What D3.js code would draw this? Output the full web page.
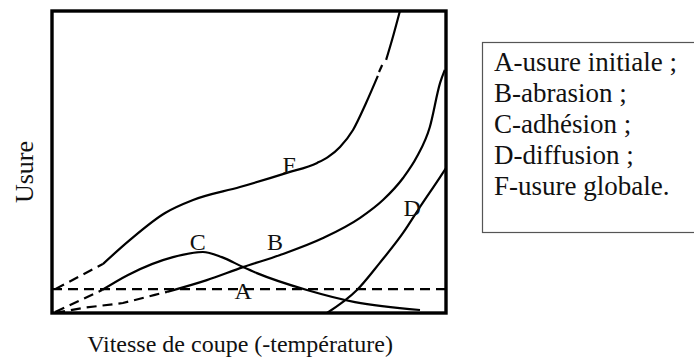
<!DOCTYPE html>
<html><head><meta charset="utf-8">
<script src="https://cdn.jsdelivr.net/npm/d3@7/dist/d3.min.js"></script>
<style>body{margin:0;background:#fff}svg{display:block}text{font-family:"Liberation Serif","Times New Roman",serif;fill:#111}</style>
</head><body><svg id="c" width="694" height="363"></svg>
<script>
// Data (relative units 0-100 on both axes)
const curveA = [[0,7.9],[100,7.9]];
const curveB_dashed = [[0.8,0],[7.9,1.7],[18.0,3.3],[26.1,6.0],[29.2,7.0]];
const curveB = [[29.2,7.0],[39.3,10.9],[48.5,15.2],[57.9,19.2],[68.8,24.8],[78.2,31.5],[84.0,37.4],[89.1,44.7],[92.6,51.7],[95.9,61.6],[98.5,76.2],[99.7,80.5]];
const curveC_dashed = [[0.8,0.3],[12.7,7.6]];
const curveC = [[12.7,7.6],[19.3,12.6],[30.7,18.5],[38.3,20.2],[43.1,18.5],[48.5,15.2],[52.0,13.2],[64.7,7.6],[76.9,3.6],[93.4,1.0]];
const curveD = [[69.8,0],[77.4,7.6],[83.2,16.6],[89.1,26.5],[93.4,35.1],[98.5,45.0],[100,48.0]];
const curveF_dashed = [[0.8,7.9],[12.9,16.2]];
const curveF = [[12.9,16.2],[19.8,24.2],[28.7,33.1],[35.8,37.4],[47.7,41.7],[59.6,46.4],[67.3,49.7],[70.1,51.7],[73.1,55.0],[76.4,60.6],[79.6,69.2],[82.7,78.5]];
const curveF_dash = [[83.0,79.8],[83.8,82.1]];
const curveF_top = [[84.8,83.8],[86.3,90.4],[88.3,100]];
const curveLabels = [{t:"F",x:60.2,y:49.3},{t:"C",x:37.0,y:23.5},{t:"B",x:56.6,y:23.5},{t:"A",x:48.5,y:7.3},{t:"D",x:91.4,y:34.8}];
const legendItems = ["A-usure initiale ;","B-abrasion ;","C-adhésion ;","D-diffusion ;","F-usure globale."];
const xTitle = "Vitesse de coupe (-température)";
const yTitle = "Usure";

const svg = d3.select("#c");
const L=52,R=446,T=11,B=313;
const x = d3.scaleLinear().domain([0,100]).range([L,R]);
const y = d3.scaleLinear().domain([0,100]).range([B,T]);
const line = d3.line().x(d=>x(d[0])).y(d=>y(d[1])).curve(d3.curveMonotoneX);
const straight = d3.line().x(d=>x(d[0])).y(d=>y(d[1]));

const solid = [curveB, curveC, curveD, curveF, curveF_dash, curveF_top];
const dashed = [curveB_dashed, curveC_dashed, curveF_dashed];
solid.forEach(c=>svg.append("path").attr("d",line(c)).attr("fill","none").attr("stroke","#000").attr("stroke-width",2.2));
dashed.forEach(c=>svg.append("path").attr("d",straight(c)).attr("fill","none").attr("stroke","#000").attr("stroke-width",2.2).attr("stroke-dasharray","10,6"));
svg.append("path").attr("d",straight(curveA)).attr("fill","none").attr("stroke","#000").attr("stroke-width",2.2).attr("stroke-dasharray","10,6");

// frame
svg.append("rect").attr("x",L).attr("y",T).attr("width",R-L).attr("height",B-T).attr("fill","none").attr("stroke","#000").attr("stroke-width",3.4);

curveLabels.forEach(l=>svg.append("text").attr("x",x(l.x)).attr("y",y(l.y)).attr("text-anchor","middle").attr("dy","0.35em").attr("font-size",24).text(l.t));

// axis titles
svg.append("text").attr("x",240).attr("y",352).attr("text-anchor","middle").attr("font-size",24).text(xTitle);
svg.append("text").attr("transform","translate(33,172) rotate(-90)").attr("text-anchor","middle").attr("font-size",26).text(yTitle);

// legend box
svg.append("rect").attr("x",482.5).attr("y",42.5).attr("width",230).attr("height",190).attr("fill","none").attr("stroke","#555").attr("stroke-width",1.2);
svg.selectAll(".lg").data(legendItems).enter().append("text").attr("x",494).attr("y",(d,i)=>71+i*31).attr("font-size",27).text(d=>d);
</script></body></html>
